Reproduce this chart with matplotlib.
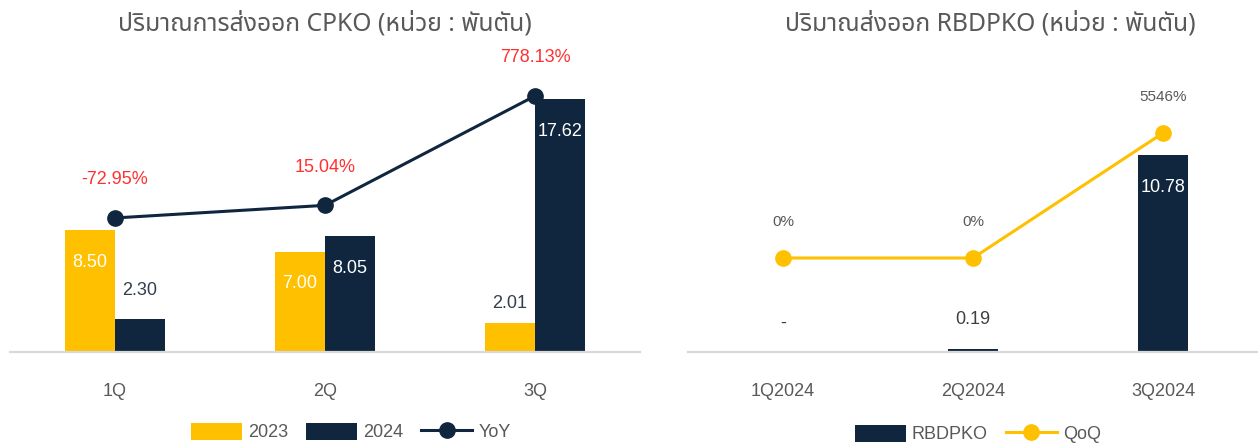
import matplotlib
matplotlib.use('Agg')
import matplotlib.pyplot as plt
import numpy as np
from matplotlib import font_manager
from matplotlib.ft2font import FT2Font
from matplotlib.patches import Patch
from matplotlib.lines import Line2D

# ---------------- data ----------------
quarters = ['1Q', '2Q', '3Q']
cpko_2023 = [8.50, 7.00, 2.01]
cpko_2024 = [2.30, 8.05, 17.62]
cpko_yoy = [-72.95, 15.04, 778.13]
cpko_yoy_labels = ['-72.95%', '15.04%', '778.13%']

rbd_quarters = ['1Q2024', '2Q2024', '3Q2024']
rbdpko = [0.0, 0.19, 10.78]
rbd_bar_labels = ['-', '0.19', '10.78']
rbd_qoq = [0, 0, 5546]
rbd_qoq_labels = ['0%', '0%', '5546%']

title_left = 'ปริมาณการส่งออก CPKO (หน่วย : พันตัน)'
title_right = 'ปริมาณส่งออก RBDPKO (หน่วย : พันตัน)'

# ---------------- fonts ----------------
def thai_fonts():
    found = []
    for f in font_manager.fontManager.ttflist:
        try:
            ft = FT2Font(f.fname)
            if ft.get_char_index(ord('ก')) and ft.get_char_index(ord('C')):
                if f.name not in found:
                    found.append(f.name)
        except Exception:
            pass
    return found

tf = thai_fonts()
pref = ['Noto Sans Thai', 'Noto Sans Thai Looped', 'Sarabun', 'Loma', 'Garuda',
        'Umpush', 'Waree', 'Kinnari', 'Norasi', 'Laksaman']
thai = None
for p in pref:
    if p in tf:
        thai = p
        break
if thai is None and tf:
    thai = tf[0]
title_family = ([thai] if thai else []) + ['DejaVu Sans']
plt.rcParams['font.family'] = ['Liberation Sans', 'DejaVu Sans']

GOLD = '#FFC000'
NAVY = '#10263F'
GRAY = '#595959'
RED = '#FF3030'
AXIS = '#D9D9D9'

W, H = 1258, 444
fig = plt.figure(figsize=(W / 100, H / 100), dpi=100)

def rect(x0, x1, ytop, ybot):
    return [x0 / W, 1 - ybot / H, (x1 - x0) / W, (ybot - ytop) / H]

PT = 100 / 72.0  # px per point

def style(ax):
    for s in ['top', 'left', 'right']:
        ax.spines[s].set_visible(False)
    ax.spines['bottom'].set_color(AXIS)
    ax.spines['bottom'].set_linewidth(1.6)
    ax.set_yticks([])
    ax.tick_params(axis='x', length=0, pad=22, labelsize=13, labelcolor=GRAY)

# ---------------- left chart ----------------
ax1 = fig.add_axes(rect(10, 640, 65, 352))
x = np.arange(len(quarters))
bw = 0.238
ax1.bar(x - bw / 2, cpko_2023, bw, color=GOLD, label='2023')
ax1.bar(x + bw / 2, cpko_2024, bw, color=NAVY, label='2024')
ax1.set_xlim(-0.5, 2.5)
ax1.set_ylim(0, 20)
ax1.set_xticks(x)
ax1.set_xticklabels(quarters)
style(ax1)

for xi, v in zip(x - bw / 2, cpko_2023):
    if v > 5:
        ax1.annotate(f'{v:.2f}', (xi, v), xytext=(0, -32 / PT), textcoords='offset points',
                     ha='center', va='center', fontsize=13, color='white')
    else:
        ax1.annotate(f'{v:.2f}', (xi, v), xytext=(0, 20 / PT), textcoords='offset points',
                     ha='center', va='center', fontsize=13, color='#333F50')
for xi, v in zip(x + bw / 2, cpko_2024):
    if v > 5:
        ax1.annotate(f'{v:.2f}', (xi, v), xytext=(0, -32 / PT), textcoords='offset points',
                     ha='center', va='center', fontsize=13, color='white')
    else:
        ax1.annotate(f'{v:.2f}', (xi, v), xytext=(0, 28 / PT), textcoords='offset points',
                     ha='center', va='center', fontsize=13, color='#333F50')

ax1b = ax1.twinx()
ax1b.plot(x, cpko_yoy, color=NAVY, lw=2.2, marker='o', ms=11, label='YoY')
ax1b.set_ylim(-1008, 994)
ax1b.set_yticks([])
for s in ax1b.spines.values():
    s.set_visible(False)
for xi, v, t in zip(x, cpko_yoy, cpko_yoy_labels):
    ax1b.annotate(t, (xi, v), xytext=(0, 38 / PT), textcoords='offset points',
                  ha='center', va='center', fontsize=13, color=RED)

fig.text(325 / W, 1 - 24 / H, title_left, ha='center', va='center',
         fontsize=17.8, color=GRAY, family=title_family, fontweight='light')

handles1 = [Patch(facecolor=GOLD), Patch(facecolor=NAVY),
            Line2D([], [], color=NAVY, lw=2.2, marker='o', ms=11)]
fig.legend(handles1, ['2023', '2024', 'YoY'], loc='center', bbox_to_anchor=(351 / W, 1 - 432 / H),
           ncol=3, frameon=False, fontsize=13, labelcolor=GRAY, handlelength=2.8,
           handleheight=1.1, handletextpad=0.35, columnspacing=1.0)

# ---------------- right chart ----------------
ax2 = fig.add_axes(rect(688, 1258, 65, 352))
x2 = np.arange(len(rbd_quarters))
bw2 = 0.26
ax2.bar(x2, rbdpko, bw2, color=NAVY)
ax2.set_xlim(-0.5, 2.5)
ax2.set_ylim(0, 15.71)
ax2.set_xticks(x2)
ax2.set_xticklabels(rbd_quarters)
style(ax2)
for xi, v, t in zip(x2, rbdpko, rbd_bar_labels):
    if v > 5:
        ax2.annotate(t, (xi, v), xytext=(0, -32 / PT), textcoords='offset points',
                     ha='center', va='center', fontsize=13, color='white')
    else:
        ax2.annotate(t, (xi, v), xytext=(0, 29 / PT), textcoords='offset points',
                     ha='center', va='center', fontsize=13, color='#404040')

ax2b = ax2.twinx()
ax2b.plot(x2, rbd_qoq, color=GOLD, lw=2.2, marker='o', ms=11)
ax2b.set_ylim(-4170, 8563)
ax2b.set_yticks([])
for s in ax2b.spines.values():
    s.set_visible(False)
for xi, v, t in zip(x2, rbd_qoq, rbd_qoq_labels):
    ax2b.annotate(t, (xi, v), xytext=(0, 36 / PT), textcoords='offset points',
                  ha='center', va='center', fontsize=11, color=GRAY)

fig.text(990 / W, 1 - 24 / H, title_right, ha='center', va='center',
         fontsize=17.8, color=GRAY, family=title_family, fontweight='light')

handles2 = [Patch(facecolor=NAVY), Line2D([], [], color=GOLD, lw=2.2, marker='o', ms=11)]
fig.legend(handles2, ['RBDPKO', 'QoQ'], loc='center', bbox_to_anchor=(978 / W, 1 - 434 / H),
           ncol=2, frameon=False, fontsize=13, labelcolor=GRAY, handlelength=2.8,
           handleheight=1.1, handletextpad=0.35, columnspacing=1.0)

fig.savefig('out.png', dpi=100)
